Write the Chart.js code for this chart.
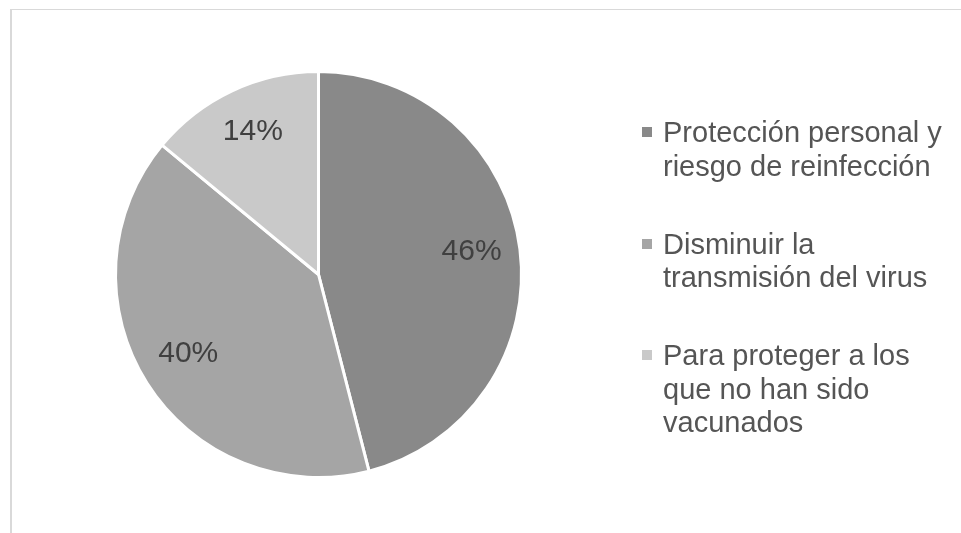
<!DOCTYPE html>
<html lang="es">
<head>
    <meta charset="UTF-8">
    <title>Gráfico</title>
    <script src="https://cdn.jsdelivr.net/npm/chart.js"></script>
    <style>
        body { margin:0; background:#fff; width:961px; height:533px; overflow:hidden; font-family:"Liberation Sans", Arial, sans-serif; }
        #frame { position:absolute; left:10px; top:9px; width:960px; height:540px; border-top:1px solid #d9d9d9; border-left:2px solid #d9d9d9; }
        #wrap { position:absolute; left:0; top:0; width:961px; height:533px; }
        #legend { position:absolute; left:642px; top:116px; color:#555555; font-size:29px; line-height:33.5px; }
        .item { position:relative; padding-left:21px; margin-bottom:44.5px; }
        .box { position:absolute; left:0; top:11px; width:10px; height:10px; }
    </style>
</head>
<body>
    <div id="frame"></div>
    <div id="wrap"><canvas id="myChart"></canvas></div>
    <div id="legend"></div>

    <script>
        // datos
        const categorias = [
            ['Protección personal y', 'riesgo de reinfección'],
            ['Disminuir la', 'transmisión del virus'],
            ['Para proteger a los', 'que no han sido', 'vacunados']
        ];
        const porcentajes = [46, 40, 14];
        const colores = ['#898989', '#a5a5a5', '#c9c9c9'];

        // etiquetas de porcentaje dentro de cada porción
        const etiquetas = {
            id: 'etiquetas',
            afterDatasetsDraw(chart) {
                const ctx = chart.ctx;
                const meta = chart.getDatasetMeta(0);
                ctx.save();
                ctx.font = '30px "Liberation Sans", Arial, sans-serif';
                ctx.fillStyle = '#404040';
                ctx.textAlign = 'center';
                ctx.textBaseline = 'middle';
                meta.data.forEach((arc, i) => {
                    const p = arc.getProps(['x', 'y', 'startAngle', 'endAngle', 'outerRadius'], true);
                    const mid = (p.startAngle + p.endAngle) / 2;
                    const r = p.outerRadius * 0.76;
                    ctx.fillText(porcentajes[i] + '%', p.x + Math.cos(mid) * r, p.y + Math.sin(mid) * r - 3);
                });
                ctx.restore();
            }
        };

        const ctx = document.querySelector('#myChart').getContext('2d');
        const myChart = new Chart(ctx, {
            type: 'pie',
            data: {
                labels: categorias,
                datasets: [{
                    data: porcentajes,
                    backgroundColor: colores,
                    borderColor: '#ffffff',
                    borderWidth: 3,
                    hoverOffset: 0
                }]
            },
            options: {
                responsive: true,
                maintainAspectRatio: false,
                animation: false,
                layout: { padding: { left: 114, top: 70, right: 438, bottom: 54 } },
                plugins: {
                    legend: { display: false },
                    tooltip: { enabled: false }
                }
            },
            plugins: [etiquetas]
        });

        // leyenda
        const leyenda = document.querySelector('#legend');
        categorias.forEach((lineas, i) => {
            const item = document.createElement('div');
            item.className = 'item';
            item.innerHTML = '<span class="box" style="background:' + colores[i] + '"></span>' + lineas.join('<br>');
            leyenda.appendChild(item);
        });
    </script>
</body>
</html>
